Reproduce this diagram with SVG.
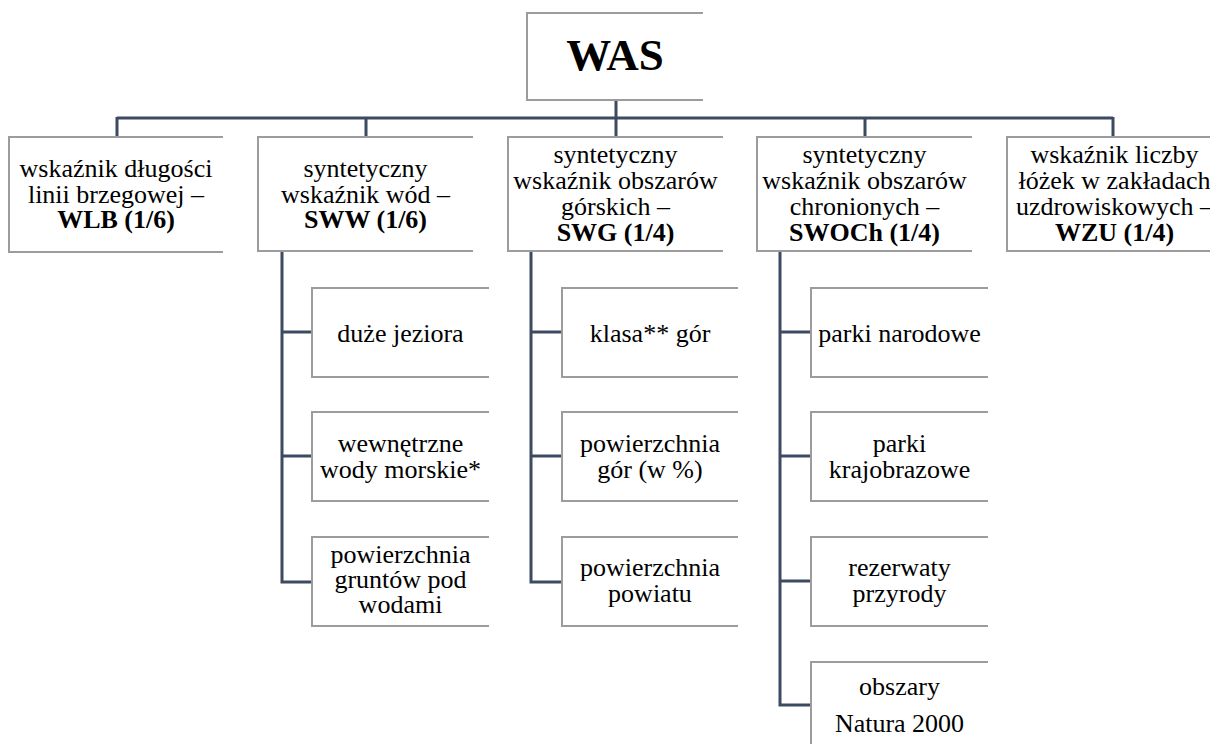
<svg xmlns="http://www.w3.org/2000/svg" width="1210" height="744" viewBox="0 0 1210 744">
<style>
.box{fill:#ffffff;stroke:none}
.edge{fill:none;stroke:#9c9c9c;stroke-width:2}
text{font-family:'Liberation Serif','Times New Roman',Times,serif;fill:#000;text-anchor:middle}
.t{font-size:26px}
.b{font-weight:bold}
.big{font-size:45px;font-weight:bold}
.c{fill:none;stroke:#3c4b61;stroke-width:3}
</style>
<rect width="1210" height="744" fill="#ffffff"/>
<g id="connectors">
<path class="c" d="M616 100 V137 M117 118 H1113 M117 117 V137 M366 117 V137 M865 117 V137 M1113 117 V137"/>
<path class="c" d="M282 251 V582 H312 M282 332 H312 M282 456 H312"/>
<path class="c" d="M531 251 V582 H562 M531 332 H562 M531 456 H562"/>
<path class="c" d="M780 251 V705 H811 M780 332 H811 M780 456 H811 M780 581 H811"/>
</g>
<g id="was">
<rect class="box" x="527" y="13" width="176" height="87"/>
<path class="edge" d="M703 13 H527 V100 H703"/>
<text class="big" x="615" y="70">WAS</text>
</g>
<g id="wlb">
<rect class="box" x="9" y="137" width="214" height="115"/>
<path class="edge" d="M223 137 H9 V252 H223"/>
<text class="t" x="116" y="177">wskaźnik długości</text>
<text class="t" x="116" y="202.5">linii brzegowej –</text>
<text class="t b" x="116" y="228">WLB (1/6)</text>
</g>
<g id="sww">
<rect class="box" x="258" y="137" width="215" height="114"/>
<path class="edge" d="M473 137 H258 V251 H473"/>
<text class="t" x="365.5" y="177">syntetyczny</text>
<text class="t" x="365.5" y="202.5">wskaźnik wód –</text>
<text class="t b" x="365.5" y="228">SWW (1/6)</text>
</g>
<g id="swg">
<rect class="box" x="508" y="137" width="215" height="114"/>
<path class="edge" d="M723 137 H508 V251 H723"/>
<text class="t" x="615.5" y="163">syntetyczny</text>
<text class="t" x="615.5" y="189">wskaźnik obszarów</text>
<text class="t" x="615.5" y="215">górskich –</text>
<text class="t b" x="615.5" y="241">SWG (1/4)</text>
</g>
<g id="swoch">
<rect class="box" x="757" y="137" width="215" height="114"/>
<path class="edge" d="M972 137 H757 V251 H972"/>
<text class="t" x="864.5" y="163">syntetyczny</text>
<text class="t" x="864.5" y="189">wskaźnik obszarów</text>
<text class="t" x="864.5" y="215">chronionych –</text>
<text class="t b" x="864.5" y="241">SWOCh (1/4)</text>
</g>
<g id="wzu">
<rect class="box" x="1007" y="137" width="215" height="114"/>
<path class="edge" d="M1222 137 H1007 V251 H1222"/>
<text class="t" x="1114.5" y="163">wskaźnik liczby</text>
<text class="t" x="1114.5" y="189">łóżek w zakładach</text>
<text class="t" x="1114.5" y="215">uzdrowiskowych –</text>
<text class="t b" x="1114.5" y="241">WZU (1/4)</text>
</g>
<g id="sww-1">
<rect class="box" x="312" y="288" width="177" height="89"/>
<path class="edge" d="M489 288 H312 V377 H489"/>
<text class="t" x="400.5" y="341.5">duże jeziora</text>
</g>
<g id="sww-2">
<rect class="box" x="312" y="412" width="177" height="89"/>
<path class="edge" d="M489 412 H312 V501 H489"/>
<text class="t" x="400.5" y="452">wewnętrzne</text>
<text class="t" x="400.5" y="477.5">wody morskie*</text>
</g>
<g id="sww-3">
<rect class="box" x="312" y="537" width="177" height="89"/>
<path class="edge" d="M489 537 H312 V626 H489"/>
<text class="t" x="400.5" y="563">powierzchnia</text>
<text class="t" x="400.5" y="588">gruntów pod</text>
<text class="t" x="400.5" y="613">wodami</text>
</g>
<g id="swg-1">
<rect class="box" x="562" y="288" width="176" height="89"/>
<path class="edge" d="M738 288 H562 V377 H738"/>
<text class="t" x="650" y="341.5">klasa** gór</text>
</g>
<g id="swg-2">
<rect class="box" x="562" y="412" width="176" height="89"/>
<path class="edge" d="M738 412 H562 V501 H738"/>
<text class="t" x="650" y="452">powierzchnia</text>
<text class="t" x="650" y="477.5">gór (w %)</text>
</g>
<g id="swg-3">
<rect class="box" x="562" y="537" width="176" height="89"/>
<path class="edge" d="M738 537 H562 V626 H738"/>
<text class="t" x="650" y="576">powierzchnia</text>
<text class="t" x="650" y="601.5">powiatu</text>
</g>
<g id="swoch-1">
<rect class="box" x="811" y="288" width="177" height="89"/>
<path class="edge" d="M988 288 H811 V377 H988"/>
<text class="t" x="899.5" y="341.5">parki narodowe</text>
</g>
<g id="swoch-2">
<rect class="box" x="811" y="412" width="177" height="89"/>
<path class="edge" d="M988 412 H811 V501 H988"/>
<text class="t" x="899.5" y="452">parki</text>
<text class="t" x="899.5" y="477.5">krajobrazowe</text>
</g>
<g id="swoch-3">
<rect class="box" x="811" y="537" width="177" height="89"/>
<path class="edge" d="M988 537 H811 V626 H988"/>
<text class="t" x="899.5" y="576">rezerwaty</text>
<text class="t" x="899.5" y="601.5">przyrody</text>
</g>
<g id="swoch-4">
<rect class="box" x="811" y="662" width="177" height="89"/>
<path class="edge" d="M988 662 H811 V751 H988"/>
<text class="t" x="899.5" y="695">obszary</text>
<text class="t" x="899.5" y="732">Natura 2000</text>
</g>
</svg>
